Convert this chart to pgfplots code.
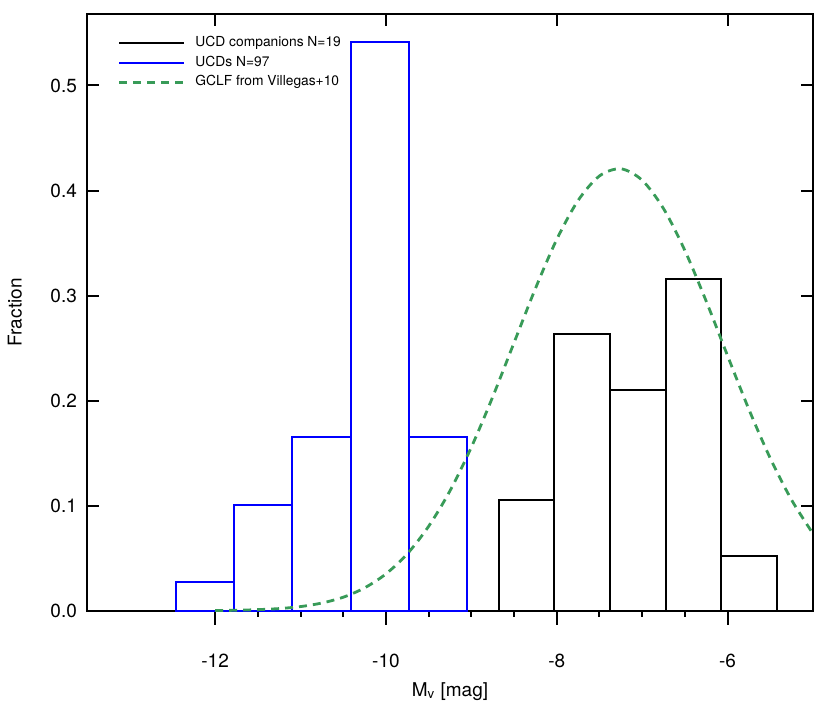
\documentclass[border=0pt]{standalone}
\usepackage{pgfplots}
\pgfplotsset{compat=1.18}
\usepackage{fontspec}
\setmainfont{TeX Gyre Heros}
\definecolor{gclfgreen}{RGB}{56,155,88}

\begin{document}
\begin{tikzpicture}
% bottom axis: outward ticks, labels
\begin{axis}[
  scale only axis,
  width=363pt, height=298.5pt,
  xmin=-13.5, xmax=-5,
  ymin=0, ymax=0.5683,
  xtick={-12,-10,-8,-6},
  minor x tick num=3,
  xtick pos=left,
  tick align=outside,
  ytick=\empty,
  major tick length=7pt,
  minor tick length=3pt,
  every tick/.style={black, line width=1pt},
  axis line style={line width=1pt},
  xticklabel style={yshift=-11pt},
  font=\fontsize{9.5}{11}\selectfont,
  /pgf/number format/assume math mode=true,
  xlabel={M\textsubscript{v} [mag]},
  xlabel style={at={(rel axis cs:0.5,-0.1357)}, anchor=center},
]
\end{axis}
% main axis: frame, inward ticks, data
\begin{axis}[
  scale only axis,
  width=363pt, height=298.5pt,
  xmin=-13.5, xmax=-5,
  ymin=0, ymax=0.5683,
  clip=false,
  xtick={-12,-10,-8,-6},
  xticklabels={},
  xtick pos=right,
  ytick={0,0.1,0.2,0.3,0.4,0.5},
  ytick pos=both,
  tick align=inside,
  major tick length=6pt,
  every tick/.style={black, line width=1pt},
  axis line style={line width=1pt},
  yticklabel style={/pgf/number format/fixed, /pgf/number format/fixed zerofill,
    /pgf/number format/precision=1, xshift=-1.5pt},
  font=\fontsize{9.5}{11}\selectfont,
  /pgf/number format/assume math mode=true,
  ylabel={Fraction},
  ylabel style={at={(rel axis cs:-0.0992,0.5)}, anchor=center},
  legend style={at={(rel axis cs:0.034,0.972)}, anchor=north west, draw=none, fill=none,
    font=\fontsize{6.9}{8}\selectfont, row sep=1.5pt,
    nodes={inner sep=0.8pt}, column sep=4pt,
    cells={anchor=west}},
  legend image code/.code={\draw[#1] (0pt,0pt) -- (32.5pt,0pt);},
]
\addplot[ybar interval, draw=black, fill=none, line width=1pt] coordinates {
  (-8.680,0.1053) (-8.028,0.2632) (-7.376,0.2105) (-6.724,0.3158) (-6.072,0.0526) (-5.420,0.0526)
};
\addlegendentry{UCD companions N=19}
\addplot[ybar interval, draw=blue, fill=none, line width=1pt] coordinates {
  (-12.460,0.0273) (-11.778,0.1006) (-11.095,0.1654) (-10.413,0.5412) (-9.730,0.1654) (-9.050,0.1654)
};
\addlegendentry{UCDs N=97}
\addplot[gclfgreen, line width=1.4pt, dash pattern=on 4pt off 3pt, smooth] coordinates {
  (-12.00,0.0002) (-11.75,0.0005) (-11.50,0.0011) (-11.25,0.0021) (-11.00,0.0040)
  (-10.75,0.0074) (-10.50,0.0129) (-10.25,0.0218) (-10.00,0.0351) (-9.75,0.0542)
  (-9.50,0.0804) (-9.25,0.1142) (-9.00,0.1557) (-8.75,0.2036) (-8.50,0.2552)
  (-8.25,0.3067) (-8.00,0.3535) (-7.75,0.3906) (-7.50,0.4139) (-7.25,0.4207)
  (-7.00,0.4098) (-6.75,0.3828) (-6.50,0.3429) (-6.25,0.2946) (-6.00,0.2427)
  (-5.75,0.1916) (-5.50,0.1451) (-5.25,0.1054) (-5.00,0.0734)
};
\addlegendentry{GCLF from Villegas+10}
\path (rel axis cs:-0.1198,-0.1675) rectangle (rel axis cs:1.0248,1.0201);
\end{axis}
\end{tikzpicture}
\end{document}
